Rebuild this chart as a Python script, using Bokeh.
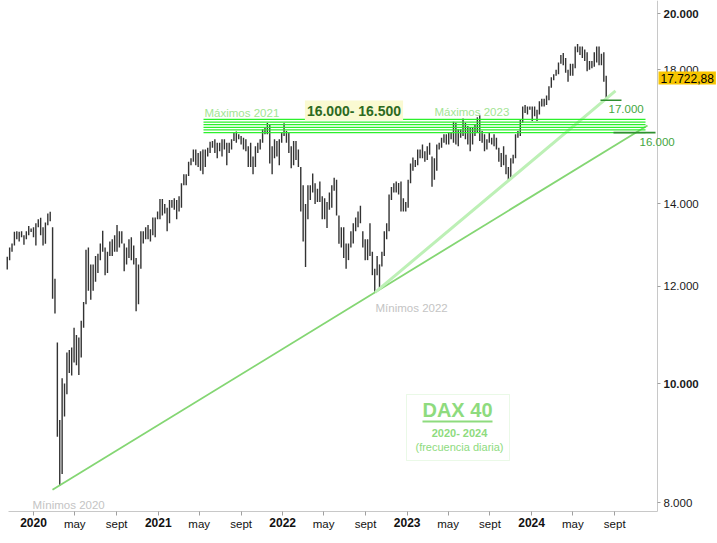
import numpy as np
import pandas as pd
from bokeh.plotting import figure
from bokeh.models import (Range1d, FixedTicker, Label, BoxAnnotation, ColumnDataSource,
                          LogAxis, LinearAxis, LogScale)
from bokeh.embed import file_html
from bokeh.resources import INLINE

# ---------------- data (weekly high / low of the DAX 40) ----------------
start_2019 = "2019-10-14"
high_2019 = [12680, 12900, 13000, 13290, 13300, 13290, 13300, 13200, 13300, 13430, 13370, 13400]
low_2019 = [12380, 12600, 12800, 12950, 13100, 13050, 13150, 12970, 13100, 13200, 13280, 13150]

start_2020 = "2020-01-06"
high_2020 = [13500, 13600, 13640, 13400, 13520, 13750, 13795, 13400, 12170, 10800,
             9340, 10100, 10000, 10600, 10650, 10700, 11100, 10950, 10900, 11250,
             11650, 12850, 12900, 12500, 12500, 12700, 12750, 13000, 13315, 12900,
             12800, 13050, 13100, 13200, 13460, 13300, 13300, 13000, 12900, 13100,
             13150, 12950, 12650, 12500, 13300, 13300, 13400, 13460, 13350, 13650,
             13650, 13800]
low_2020 = [12950, 13400, 13200, 12950, 12990, 13450, 13550, 11720, 11400, 9050,
            8256, 8440, 9400, 9800, 10200, 10150, 10400, 10350, 10160, 10500,
            11100, 11600, 11900, 11700, 11900, 12100, 12300, 12600, 12800, 12250,
            12300, 12700, 12700, 12800, 12800, 12900, 13000, 12340, 12500, 12650,
            12600, 12500, 11450, 11600, 12400, 13000, 13100, 13100, 13050, 13200,
            13150, 13600]

start_2021 = "2021-01-04"
high_2021 = [14130, 14130, 14000, 13900, 14100, 14100, 14150, 14100, 14200, 14550,
             14800, 14800, 15150, 15250, 15500, 15500, 15400, 15450, 15500, 15500,
             15550, 15730, 15750, 15800, 15700, 15700, 15800, 15800, 15700, 15700,
             15800, 16000, 16030, 15950, 15900, 15850, 15800, 15600, 15700, 15300,
             15600, 15700, 15800, 16100, 16150, 16290, 16250, 15600, 15800, 15750,
             15800, 16000]
low_2021 = [13600, 13700, 13750, 13300, 13500, 13900, 13850, 13600, 13800, 13900,
            14500, 14500, 14750, 15050, 15150, 15050, 15000, 14900, 14800, 15000,
            15300, 15400, 15550, 15400, 15250, 15450, 15300, 15500, 15050, 15400,
            15500, 15750, 15700, 15800, 15650, 15500, 15450, 15000, 15000, 14800,
            15000, 15400, 15500, 15700, 15950, 15950, 15100, 14800, 15250, 15300,
            15050, 15700]

start_2022 = "2022-01-03"
high_2022 = [16285, 16050, 16000, 15600, 15750, 15750, 15500, 15000, 14500, 14000,
             14500, 14500, 14820, 14550, 14400, 14600, 14200, 14150, 14050, 14300,
             14500, 14700, 14650, 13700, 13400, 13400, 13000, 13000, 13300, 13500,
             13650, 13800, 13950, 13300, 13100, 13100, 13500, 12800, 12400, 12700,
             12500, 12800, 13300, 13500, 14250, 14450, 14550, 14600, 14560, 14600,
             14150, 14050]
low_2022 = [15900, 15700, 15400, 14970, 15050, 15200, 15000, 13800, 13050, 12439,
            13600, 14100, 14300, 14000, 14050, 14050, 13600, 13600, 13380, 13850,
            13900, 14350, 13700, 12990, 12900, 12650, 12400, 12600, 12900, 13000,
            13300, 13400, 13500, 12900, 12600, 12600, 12700, 12250, 11863, 12250,
            11950, 12450, 12700, 13100, 13300, 14100, 14300, 14300, 14250, 13800,
            13800, 13800]

start_2023 = "2023-01-02"
high_2023 = [14650, 15100, 15270, 15200, 15500, 15500, 15650, 15450, 15600, 15700,
             15300, 15250, 15650, 15700, 15850, 15950, 15950, 16000, 16000, 16330,
             16300, 16100, 16100, 16430, 16300, 16200, 16150, 16150, 16250, 16470,
             16530, 16050, 15950, 15800, 16000, 15850, 15950, 15850, 15550, 15400,
             15600, 15350, 15000, 15250, 15350, 15950, 16050, 16400, 16800, 16850,
             16800, 16800]
low_2023 = [13900, 14550, 14900, 15000, 15050, 15250, 15250, 15150, 15200, 15350,
            14458, 14650, 14900, 15500, 15550, 15700, 15650, 15650, 15800, 15700,
            15650, 15600, 15850, 15900, 15800, 15650, 15450, 15650, 15900, 16000,
            15750, 15700, 15450, 15500, 15700, 15650, 15600, 15500, 15150, 15000,
            15050, 14800, 14630, 14700, 15100, 15250, 15850, 15900, 16300, 16600,
            16550, 16700]

start_2024 = "2024-01-01"
high_2024 = [16800, 16800, 16700, 16970, 17050, 17050, 17150, 17450, 17750, 17850,
             18000, 18250, 18500, 18570, 18400, 18000, 18200, 18200, 18800, 18890,
             18800, 18800, 18700, 18600, 18300, 18300, 18600, 18800, 18800, 18550,
             18600, 17800]
low_2024 = [16350, 16500, 16350, 16550, 16800, 16800, 16850, 17000, 17400, 17650,
            17800, 17850, 18200, 18150, 17900, 17600, 17800, 17800, 18050, 18600,
            18500, 18400, 18300, 17950, 18000, 18050, 18100, 18250, 18150, 18150,
            17600, 17025]

last_close = 17722.88

# pivots of the trend lines (Mínimos 2020, Mínimos 2022, low Oct 2023)
pivot_dates = ["2020-03-16", "2022-09-29", "2023-10-26"]
pivot_values = [8256, 11863, 14630]

# resistance band lines and the two marked levels
band_levels = [16000, 16080, 16160, 16240, 16320, 16400]
mark_levels = [17000, 16000]

# axes
y_ticks = [8000, 10000, 12000, 14000, 18000, 20000]
y_tick_labels = ["8.000", "10.000", "12.000", "14.000", "18.000", "20.000"]
y_bold_ticks = [10000, 20000]
years = [2020, 2021, 2022, 2023, 2024]
month_ticks = ["05-01", "09-01"]
month_tick_labels = ["may", "sept"]

# ---------------- helpers ----------------
EPOCH = pd.Timestamp("2020-01-01")
FONT = "Liberation Sans"
X0, PXD = 33.0, 0.3409          # page x of 2020-01-01, pixels per day
Y0, PXL = 13.0, 533.8           # page y of 20.000, pixels per ln-unit
W, H = 717, 543
FR_L, FR_R, FR_B = 8, 657, 511  # plotting area edges (page pixels)


def day(d):
    return float((pd.Timestamp(d) - EPOCH).days)


def dx(px):
    return (px - X0) / PXD


def vy(py):
    return 20000 * np.exp(-(py - Y0) / PXL)


def through(d0, v0, d1, v1, d):
    return float(np.exp(np.log(v0) + (np.log(v1) - np.log(v0)) * (d - d0) / (d1 - d0)))


xs, his, los = [], [], []
for st, hi, lo in [(start_2019, high_2019, low_2019), (start_2020, high_2020, low_2020),
                   (start_2021, high_2021, low_2021), (start_2022, high_2022, low_2022),
                   (start_2023, high_2023, low_2023), (start_2024, high_2024, low_2024)]:
    dts = pd.date_range(st, periods=len(hi), freq="7D")
    xs += [day(d) + 2 for d in dts]
    his += hi
    los += lo

src = ColumnDataSource(dict(x=xs, hi=his, lo=los))

p = figure(width=W, height=H,
           x_range=Range1d(dx(0), dx(W)), y_range=Range1d(vy(H), vy(0)),
           y_axis_type="log", x_axis_location=None, y_axis_location=None,
           output_backend="svg", toolbar_location=None,
           min_border_left=0, min_border_right=0, min_border_top=0, min_border_bottom=0)
p.y_scale = LogScale()
p.outline_line_color = None
p.grid.visible = False
p.background_fill_color = "white"
p.border_fill_color = "white"

# DAX box (under everything)
p.add_layout(BoxAnnotation(left=dx(406), right=dx(509), bottom=vy(460), top=vy(394),
                           fill_color="white", fill_alpha=1.0, line_color="#b8ebb0",
                           line_width=1, level="underlay"))

# price bars
p.segment(x0="x", y0="lo", x1="x", y1="hi", source=src, line_color="#333333", line_width=1.4)

# trend lines
pd0, pd1, pd2 = [day(d) for d in pivot_dates]
v0, v1, v2 = pivot_values
a_start, a_end = dx(52), dx(647)
p.line([a_start, a_end], [through(pd0, v0, pd1, v1, a_start), through(pd0, v0, pd1, v1, a_end)],
       line_color="#84d673", line_width=1.8)
b_end = dx(615)
p.line([pd1, b_end], [v1, through(pd1, v1, pd2, v2, b_end)],
       line_color="#bdf0b6", line_width=3)

# band lines
n = len(band_levels)
p.segment(x0=[dx(203)] * n, x1=[dx(645)] * n, y0=band_levels, y1=band_levels,
          line_color="#2cf02c", line_width=1.3)

# marked levels 17.000 / 16.000
p.segment(x0=[dx(600), dx(613)], x1=[dx(621), dx(655)], y0=mark_levels, y1=mark_levels,
          line_color="#2f8f2f", line_width=1.6)

# DAX 40 underline
p.segment(x0=[dx(422)], x1=[dx(492)], y0=[vy(421)], y1=[vy(421)], line_color="#8edb7e", line_width=2)

# ---------------- axes (fixed at the plotting-area edges) ----------------
yaxis = LogAxis(fixed_location=dx(FR_R), bounds=(vy(FR_B), vy(0)),
                ticker=FixedTicker(ticks=y_ticks),
                major_label_overrides={t: ("" if t in y_bold_ticks else l) for t, l in zip(y_ticks, y_tick_labels)},
                major_label_text_font=FONT, major_label_text_font_size="11.5px",
                major_label_text_color="#1a1a1a", major_label_standoff=3,
                major_tick_out=3, major_tick_in=0, minor_tick_line_color=None,
                axis_line_color="#c8c8c8", major_tick_line_color="#a0a0a0")
p.add_layout(yaxis, "right")

x_ticks, x_over = [], {}
for yr in years:
    t = day(f"{yr}-01-01")
    x_ticks.append(t)
    x_over[t] = ""
    for m, ml in zip(month_ticks, month_tick_labels):
        t = day(f"{yr}-{m}")
        x_ticks.append(t)
        x_over[t] = ml
xaxis = LinearAxis(fixed_location=vy(FR_B), bounds=(dx(FR_L), dx(FR_R)),
                   ticker=FixedTicker(ticks=x_ticks), major_label_overrides=x_over,
                   major_label_text_font=FONT, major_label_text_font_size="11.5px",
                   major_label_text_color="#111111", major_label_standoff=2,
                   major_tick_out=4, major_tick_in=0, minor_tick_line_color=None,
                   axis_line_color="#c8c8c8", major_tick_line_color="#a0a0a0")
p.add_layout(xaxis, "below")


# ---------------- texts ----------------
def lab(px, py, text, size, color, bold=False, align="left", baseline="middle", **kw):
    p.add_layout(Label(x=dx(px), y=vy(py), text=text, text_align=align, text_baseline=baseline,
                       text_font=FONT, text_font_size=size, text_color=color,
                       text_font_style="bold" if bold else "normal", **kw))


# bold year labels under the axis and bold y labels
for yr in years:
    p.add_layout(Label(x=day(f"{yr}-01-01"), y=vy(FR_B + 6), text=str(yr), text_align="center",
                       text_baseline="top", text_font=FONT, text_font_size="12px",
                       text_font_style="bold", text_color="#111111"))
for t, l in zip(y_ticks, y_tick_labels):
    if t in y_bold_ticks:
        p.add_layout(Label(x=dx(FR_R + 6), y=t, text=l, text_align="left", text_baseline="middle",
                           text_font=FONT, text_font_size="11.5px", text_font_style="bold",
                           text_color="#1a1a1a"))

lab(204, 112, "Máximos 2021", "11.5px", "#a2e493")
lab(434, 111, "Máximos 2023", "11.5px", "#a2e493")
lab(353.5, 110, "16.000- 16.500", "14px", "#2d6a1f", bold=True, align="center",
    background_fill_color="#fafad2", padding=2)
lab(608, 108, "17.000", "11.5px", "#44a641")
lab(639, 141, "16.000", "11.5px", "#44a641")
lab(375, 307, "Mínimos 2022", "11.5px", "#c4c4c4")
lab(32, 504, "Mínimos 2020", "11.5px", "#c4c4c4")
lab(457, 409, "DAX 40", "20px", "#8edb7e", bold=True, align="center")
lab(459, 432, "2020- 2024", "11px", "#8edb7e", bold=True, align="center")
lab(459, 446, "(frecuencia diaria)", "11px", "#8edb7e", align="center")

price_txt = f"{last_close:,.2f}".replace(",", "X").replace(".", ",").replace("X", ".")
p.add_layout(Label(x=dx(FR_R + 1), y=last_close, text=price_txt, text_align="left",
                   text_baseline="middle", text_font=FONT, text_font_size="12px",
                   text_color="#000000", background_fill_color="#f7c500", padding=2))

open("out.html", "w").write(file_html(p, INLINE))
